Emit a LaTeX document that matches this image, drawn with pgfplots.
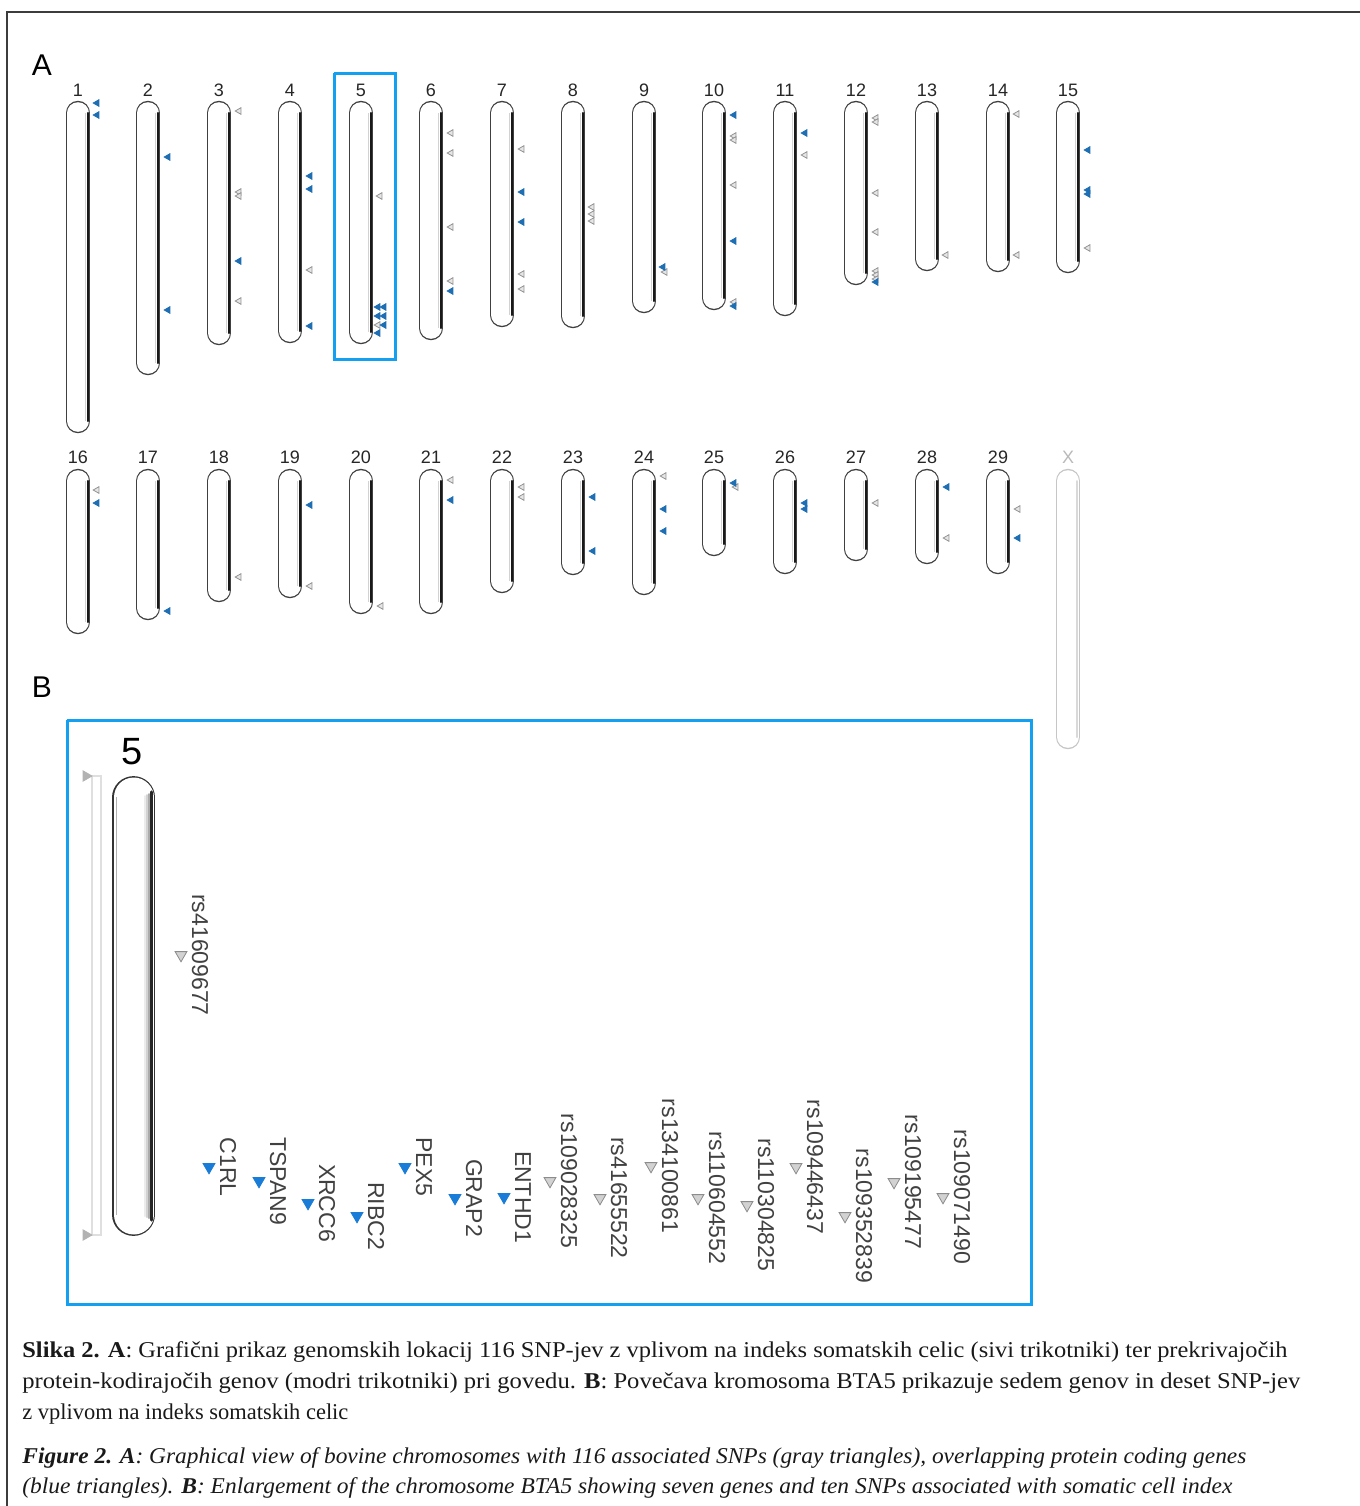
\documentclass[border=0pt]{standalone}
\usepackage{pgfplots}
\pgfplotsset{compat=1.18}
\usepackage{pgfplotstable}
\usepackage{graphicx}
\usepackage{fontspec}
\setmainfont{Liberation Serif}
\newfontfamily\sansf{Liberation Sans}

\definecolor{boxblue}{RGB}{20,160,240}
\definecolor{markblue}{RGB}{30,110,180}
\definecolor{bblue}{RGB}{25,125,215}
\definecolor{labgray}{RGB}{65,65,65}
\definecolor{framegray}{RGB}{60,60,60}

% chromosomes: x, y (straight part ends; nan = break)
\pgfplotstableread{
x y
78 113
78 421
78 nan
148 113
148 363
148 nan
219 113
219 333
219 nan
290 113
290 331
290 nan
361 113
361 332
361 nan
431 113
431 328
431 nan
502 113
502 315
502 nan
573 113
573 316
573 nan
644 113
644 301
644 nan
714 113
714 298
714 nan
785 113
785 304
785 nan
856 113
856 273
856 nan
927 113
927 259
927 nan
998 113
998 260
998 nan
1068 113
1068 261
1068 nan
78 481
78 622
78 nan
148 481
148 608
148 nan
219 481
219 590
219 nan
290 481
290 586
290 nan
361 481
361 602
361 nan
431 481
431 602
431 nan
502 481
502 581
502 nan
573 481
573 563
573 nan
644 481
644 583
644 nan
714 481
714 544
714 nan
785 481
785 562
785 nan
856 481
856 549
856 nan
927 481
927 552
927 nan
998 481
998 562
998 nan
}\chrom

\pgfplotstableread{
x y
1068 481
1068 737
}\chromX

\pgfplotstableread{
x y
97 103
97 115
168 157
168 310
239 261
310 176
310 189
310 326
378 307
384 307
378 316
384 316
384 325
378 333
451 291
522 192
522 222
663 267
734 115
734 241
734 306
805 133
876 282
1088 150
1088 190
1088 194
97 503
168 611
310 505
451 500
593 497
593 551
664 509
664 531
734 483
805 503
805 509
947 487
1018 538
}\blueA

\pgfplotstableread{
x y
239 111
239 192
239 196
239 301
310 270
380 196
378 325
451 133
451 153
451 227
451 281
522 149
522 274
522 289
592 207
592 214
592 221
665 272
734 136
734 140
734 185
734 302
805 155
876 118
876 122
876 193
876 232
876 271
876 275
876 279
946 255
1017 114
1017 255
1088 248
97 490
239 577
310 586
381 606
451 480
522 487
522 497
664 476
736 487
876 503
947 538
1018 509
}\grayA

\pgfplotstableread{
x y
181 955
550 1181
600 1198
651 1166
698 1198
747 1205
796 1167
845 1216
894 1182
943 1197
}\grayB

\pgfplotstableread{
x y
209 1167
259 1181
308 1203
357 1216
405 1167
455 1198
504 1197
}\blueB

\begin{document}
\begin{tikzpicture}
\begin{axis}[at={(0,0)}, anchor=south west,
  width=680pt, height=753pt, scale only axis,
  xmin=0, xmax=1360, ymin=0, ymax=1506, y dir=reverse,
  hide axis, clip=false]

% outer frame
\addplot[framegray, line width=1pt] coordinates {(7,1506) (7,12) (1360,12)};

% chromosomes panel A
\addplot[black!75, line width=12.2pt, line cap=round, unbounded coords=jump] table {\chrom};
\addplot[white, line width=10.8pt, line cap=round, unbounded coords=jump] table {\chrom};
\addplot[gray!35, line width=0.6pt, unbounded coords=jump] table[x expr=\thisrow{x}+7.6, y=y] {\chrom};
\addplot[black!90, line width=1.1pt, line cap=round, unbounded coords=jump] table[x expr=\thisrow{x}+9.6, y=y] {\chrom};

% X chromosome
\addplot[gray!45, line width=12.2pt, line cap=round] table {\chromX};
\addplot[white, line width=10.8pt, line cap=round] table {\chromX};
\addplot[gray!30, line width=1pt, line cap=round] table[x expr=\thisrow{x}+9.4, y=y] {\chromX};

% markers panel A
\addplot[only marks, mark=triangle*, mark size=1.9pt,
  mark options={rotate=90, fill=gray!20, draw=gray!85, line width=0.4pt}] table {\grayA};
\addplot[only marks, mark=triangle*, mark size=1.9pt,
  mark options={rotate=90, fill=markblue, draw=markblue}] table {\blueA};

% blue boxes
\addplot[boxblue, line width=1.5pt] coordinates {(334,73) (395,73) (395,359) (334,359) (334,73)};
\addplot[boxblue, line width=1.5pt] coordinates {(67,720) (1031,720) (1031,1304) (67,1304) (67,720)};

% panel B chromosome 5
\addplot[gray!25, line width=0.6pt] coordinates {(92,776) (101,776) (101,1235) (92,1235) (92,776)};
\addplot[only marks, mark=triangle*, mark size=3pt,
  mark options={rotate=-90, fill=gray!60, draw=gray!60}] coordinates {(86,776) (86,1235)};
\addplot[black!80, line width=21.4pt, line cap=round] coordinates {(133.5,797.5) (133.5,1214.5)};
\addplot[white, line width=20pt, line cap=round] coordinates {(133.5,797.5) (133.5,1214.5)};
\addplot[gray!15, line width=1pt, line cap=round] coordinates {(144.5,796) (144.5,1216)};
\addplot[gray!35, line width=1pt, line cap=round] coordinates {(146.5,795) (146.5,1217)};
\addplot[gray!65, line width=1pt, line cap=round] coordinates {(148.5,794) (148.5,1218)};
\addplot[black!85, line width=1.6pt, line cap=round] coordinates {(151.5,792) (151.5,1220)};
\addplot[gray!60, line width=0.4pt] coordinates {(116.5,797) (116.5,1215)};

\addplot[only marks, mark=triangle*, mark size=3.4pt,
  mark options={rotate=180, fill=gray!35, draw=gray!90, line width=0.4pt}] table {\grayB};
\addplot[only marks, mark=triangle*, mark size=3.4pt,
  mark options={rotate=180, fill=bblue, draw=bblue}] table {\blueB};

% panel letters
\node[font=\sansf\fontsize{15}{15}\selectfont] at (axis cs:42,65) {A};
\node[font=\sansf\fontsize{15}{15}\selectfont] at (axis cs:42,687) {B};
\node[font=\sansf\fontsize{19}{19}\selectfont] at (axis cs:132,752) {5};

% chromosome numbers
\begin{scope}[every node/.style={font=\sansf\fontsize{9}{9}\selectfont, text=black!85}]
\node at (axis cs:78,90) {1};
\node at (axis cs:148,90) {2};
\node at (axis cs:219,90) {3};
\node at (axis cs:290,90) {4};
\node at (axis cs:361,90) {5};
\node at (axis cs:431,90) {6};
\node at (axis cs:502,90) {7};
\node at (axis cs:573,90) {8};
\node at (axis cs:644,90) {9};
\node at (axis cs:714,90) {10};
\node at (axis cs:785,90) {11};
\node at (axis cs:856,90) {12};
\node at (axis cs:927,90) {13};
\node at (axis cs:998,90) {14};
\node at (axis cs:1068,90) {15};
\node at (axis cs:78,457) {16};
\node at (axis cs:148,457) {17};
\node at (axis cs:219,457) {18};
\node at (axis cs:290,457) {19};
\node at (axis cs:361,457) {20};
\node at (axis cs:431,457) {21};
\node at (axis cs:502,457) {22};
\node at (axis cs:573,457) {23};
\node at (axis cs:644,457) {24};
\node at (axis cs:714,457) {25};
\node at (axis cs:785,457) {26};
\node at (axis cs:856,457) {27};
\node at (axis cs:927,457) {28};
\node at (axis cs:998,457) {29};
\node[text=gray!55] at (axis cs:1068,457) {X};
\end{scope}

% panel B labels
\begin{scope}[every node/.style={rotate=-90, font=\sansf\fontsize{11.5}{11.5}\selectfont, text=labgray}]
\node at (axis cs:200,955) {rs41609677};
\node at (axis cs:228,1167) {C1RL};
\node at (axis cs:278,1181) {TSPAN9};
\node at (axis cs:327,1203) {XRCC6};
\node at (axis cs:376,1216) {RIBC2};
\node at (axis cs:424,1167) {PEX5};
\node at (axis cs:474,1198) {GRAP2};
\node at (axis cs:523,1197) {ENTHD1};
\node at (axis cs:569,1181) {rs109028325};
\node at (axis cs:619,1198) {rs41655522};
\node at (axis cs:670,1166) {rs134100861};
\node at (axis cs:717,1198) {rs110604552};
\node at (axis cs:766,1205) {rs110304825};
\node at (axis cs:815,1167) {rs109446437};
\node at (axis cs:864,1216) {rs109352839};
\node at (axis cs:913,1182) {rs109195477};
\node at (axis cs:962,1197) {rs109071490};
\end{scope}

% caption
\begin{scope}[every node/.style={anchor=base west, inner sep=0pt, font=\fontsize{11.3}{13}\selectfont, text=black!90}]
\node at (axis cs:22,1357) {\resizebox{632.5pt}{\height}{\textbf{Slika 2. A}: Grafični prikaz genomskih lokacij 116 SNP-jev z vplivom na indeks somatskih celic (sivi trikotniki) ter prekrivajočih}};
\node at (axis cs:22,1388) {\resizebox{639pt}{\height}{protein-kodirajočih genov (modri trikotniki) pri govedu. \textbf{B}: Povečava kromosoma BTA5 prikazuje sedem genov in deset SNP-jev}};
\node at (axis cs:22,1419) {\resizebox{163pt}{\height}{z vplivom na indeks somatskih celic}};
\node at (axis cs:22,1463) {\resizebox{612pt}{\height}{\textbf{\textit{Figure 2. A}}\textit{: Graphical view of bovine chromosomes with 116 associated SNPs (gray triangles), overlapping protein coding genes}}};
\node at (axis cs:22,1493) {\resizebox{605pt}{\height}{\textit{(blue triangles). \textbf{B}: Enlargement of the chromosome BTA5 showing seven genes and ten SNPs associated with somatic cell index}}};
\end{scope}

\end{axis}
\pgfresetboundingbox
\path[use as bounding box] (0,0) rectangle (680pt,753pt);
\end{tikzpicture}
\end{document}
